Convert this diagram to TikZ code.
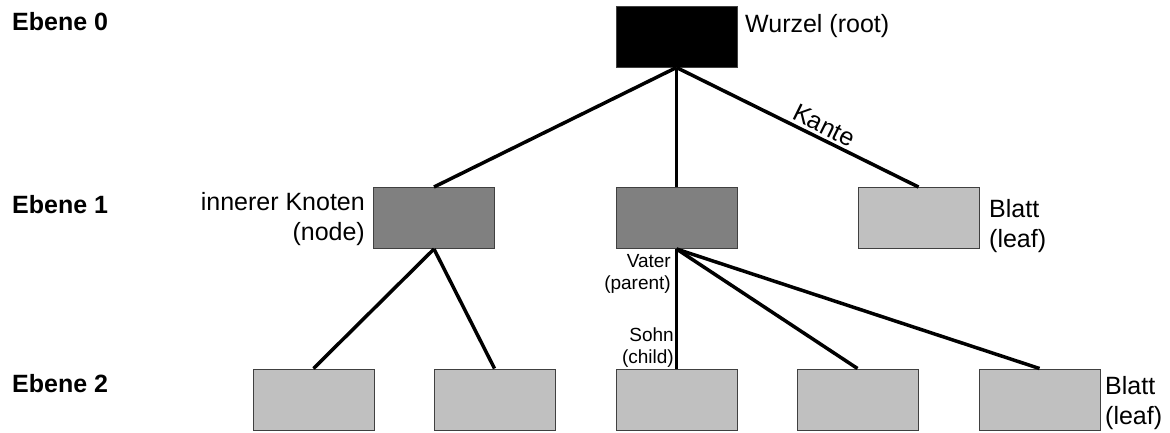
\documentclass[tikz,border=0pt]{standalone}
\usepackage{fontspec}
\setmainfont{Liberation Sans}
\begin{document}
\begin{tikzpicture}[x=1pt,y=-1pt,
  box/.style={draw=black!75,line width=1pt,minimum width=121pt,minimum height=61pt,inner sep=0pt},
  rootbox/.style={box,fill=black},
  innerbox/.style={box,fill={rgb,255:red,128;green,128;blue,128}},
  leafbox/.style={box,fill={rgb,255:red,192;green,192;blue,192}},
  edge/.style={line width=3.5pt,black},
  lbl/.style={inner sep=0pt,font=\fontsize{25}{30}\selectfont},
  lvl/.style={inner sep=0pt,anchor=base west,font=\fontsize{25}{30}\selectfont\bfseries},
  small/.style={inner sep=0pt,font=\fontsize{19}{22}\selectfont,align=right,anchor=base east}]
\useasboundingbox (0,0) rectangle (1170,432);
% level labels
\node[lvl] (e0) at (12,30) {Ebene 0};
\node[lvl] (e1) at (12,213) {Ebene 1};
\node[lvl] (e2) at (12,392) {Ebene 2};
% nodes
\node[rootbox] (r) at (676.5,36.5) {};
\node[innerbox] (a) at (434,218) {};
\node[innerbox] (b) at (676.5,218) {};
\node[leafbox] (c) at (918.5,218) {};
\node[leafbox] (a1) at (313.5,399.5) {};
\node[leafbox] (a2) at (494.5,399.5) {};
\node[leafbox] (b1) at (676.5,399.5) {};
\node[leafbox] (b2) at (857.5,399.5) {};
\node[leafbox] (b3) at (1039.5,399.5) {};
% edges
\draw[edge] (r.south) -- (a.north);
\draw[edge] (r.south) -- (b.north);
\draw[edge] (r.south) -- node[pos=0.585,sloped,above,inner sep=3pt,font=\fontsize{25}{30}\selectfont] (kante) {Kante} (c.north);
\draw[edge] (a.south) -- (a1.north);
\draw[edge] (a.south) -- (a2.north);
\draw[edge] (b.south) -- (b1.north);
\draw[edge] (b.south) -- (b2.north);
\draw[edge] (b.south) -- (b3.north);
% labels (base anchor = baseline of the last line)
\node[lbl,anchor=base west] (rl) at (745,32) {Wurzel (root)};
\node[lbl,align=right,anchor=base east] (al) at (365,240) {innerer Knoten\\(node)};
\node[lbl,align=left,anchor=base west] (cl) at (989,247) {Blatt\\(leaf)};
\node[lbl,align=left,anchor=base west] (b3l) at (1105,424) {Blatt\\(leaf)};
\node[small] (vl) at (671,289) {Vater\\(parent)};
\node[small] (sl) at (674,363) {Sohn\\(child)};
\end{tikzpicture}
\end{document}
